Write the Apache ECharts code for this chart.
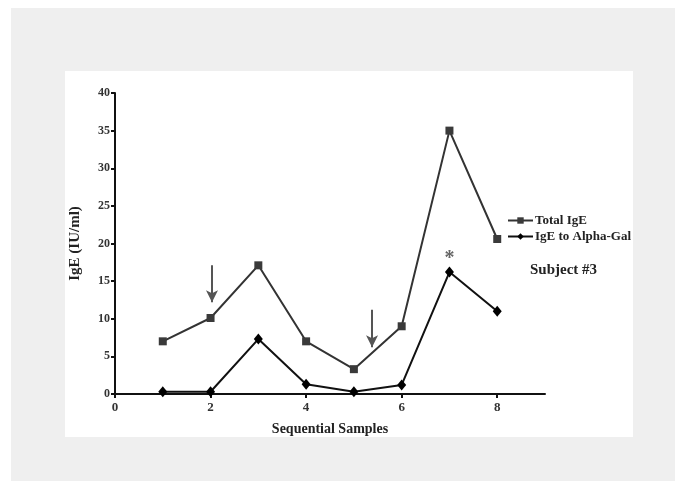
<!DOCTYPE html>
<html>
<head>
<meta charset="utf-8">
<script src="https://cdn.jsdelivr.net/npm/echarts@6/dist/echarts.min.js"></script>
<style>
  html, body { margin: 0; padding: 0; background: #fff; }
  #chart { width: 675px; height: 481px; }
</style>
</head>
<body>
<div id="chart"></div>
<script>
// sample number on x, IgE (IU/ml) on y
var samples = [1, 2, 3, 4, 5, 6, 7, 8];
var totalIgE = [7.0, 10.1, 17.1, 7.0, 3.3, 9.0, 35.0, 20.6];
var alphaGalIgE = [0.3, 0.3, 7.3, 1.3, 0.3, 1.2, 16.2, 11.0];
var xTicks = [0, 2, 4, 6, 8];
// arrows drawn above samples (start -> end in data units)
var arrows = [
  [[2.03, 17.1], [2.03, 12.2]],
  [[5.38, 11.2], [5.38, 6.2]]
];
var starPoint = [7, 17.9];

var serif = '"Liberation Serif", "DejaVu Serif", serif';

function pairs(xs, ys) {
  var out = [];
  for (var i = 0; i < xs.length; i++) out.push([xs[i], ys[i]]);
  return out;
}

var chart = echarts.init(document.getElementById('chart'));
var option = {
  animation: false,
  backgroundColor: '#fff',
  graphic: [
    { type: 'rect', z: -10, shape: { x: 11, y: 8, width: 664, height: 473 }, style: { fill: '#efefef' } },
    { type: 'rect', z: -9, shape: { x: 65, y: 71, width: 568, height: 366 }, style: { fill: '#fff' } }
  ],
  title: {
    text: 'Subject #3',
    left: 525, top: 258,
    textStyle: { fontFamily: serif, fontWeight: 'bold', fontSize: 15, color: '#222' }
  },
  legend: {
    orient: 'vertical',
    left: 502, top: 209,
    itemWidth: 25, itemHeight: 8, itemGap: 3,
    textStyle: { fontFamily: serif, fontWeight: 'bold', fontSize: 13, color: '#222', padding: [0, 0, 0, -3] },
    data: ['Total IgE', 'IgE to Alpha-Gal']
  },
  grid: { left: 115, top: 93, right: 130, bottom: 87, containLabel: false },
  xAxis: {
    type: 'value', min: 0, max: 9,
    name: 'Sequential Samples', nameLocation: 'middle', nameGap: 28,
    nameTextStyle: { fontFamily: serif, fontWeight: 'bold', fontSize: 14, color: '#222' },
    axisLine: { onZero: false, lineStyle: { color: '#111', width: 2 } },
    axisTick: { length: 4, lineStyle: { color: '#111', width: 2 }, customValues: xTicks },
    axisLabel: { customValues: xTicks, margin: 7, fontFamily: serif, fontWeight: 'bold', fontSize: 13, color: '#333' },
    splitLine: { show: false }
  },
  yAxis: {
    type: 'value', min: 0, max: 40, interval: 5,
    name: 'IgE (IU/ml)', nameLocation: 'middle', nameGap: 32, nameRotate: 90,
    nameTextStyle: { fontFamily: serif, fontWeight: 'bold', fontSize: 15, color: '#222' },
    axisLine: { show: true, lineStyle: { color: '#111', width: 2 } },
    axisTick: { show: true, length: 4, lineStyle: { color: '#111', width: 2 } },
    axisLabel: { margin: 5, fontFamily: serif, fontWeight: 'bold', fontSize: 12, color: '#333' },
    splitLine: { show: false }
  },
  series: [
    {
      name: 'Total IgE', type: 'line',
      data: pairs(samples, totalIgE),
      symbol: 'rect', symbolSize: 8,
      lineStyle: { color: '#333', width: 2 },
      itemStyle: { color: '#3a3a3a' },
      markLine: {
        silent: true, symbol: ['none', 'arrow'], symbolSize: [9, 12],
        lineStyle: { color: '#555', width: 2, type: 'solid' },
        label: { show: false },
        data: arrows.map(function (a) { return [{ coord: a[0] }, { coord: a[1] }]; })
      }
    },
    {
      name: 'IgE to Alpha-Gal', type: 'line',
      data: pairs(samples, alphaGalIgE),
      symbol: 'diamond', symbolSize: [9, 11],
      lineStyle: { color: '#111', width: 2 },
      itemStyle: { color: '#000' },
      markPoint: {
        silent: true, symbol: 'circle', symbolSize: 1,
        itemStyle: { color: 'rgba(0,0,0,0)' },
        label: { show: true, formatter: '*', position: 'inside', fontFamily: serif, fontWeight: 'bold', fontSize: 20, color: '#666' },
        data: [{ coord: starPoint }]
      }
    }
  ]
};
chart.setOption(option);
</script>
</body>
</html>
